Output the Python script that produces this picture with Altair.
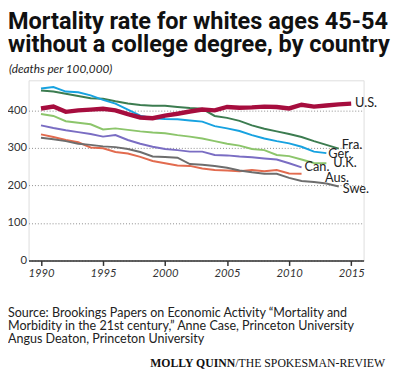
import altair as alt
import pandas as pd

years = list(range(1990, 2016))

us = [405, 410, 396, 400, 402, 404, 400, 390, 381, 379, 386, 391, 397, 402, 400, 409, 407, 408, 410, 409, 405, 415, 410, 413, 416, 418]
fra = [453, 450, 444, 438, 432, 431, 424, 418, 414, 412, 412, 409, 406, 404, 385, 380, 372, 360, 351, 344, 337, 329, 318, 308, 298]
ger = [458, 462, 450, 448, 440, 428, 418, 402, 386, 379, 377, 376, 373, 370, 358, 352, 345, 334, 325, 318, 312, 303, 290, 286]
uk = [390, 385, 371, 367, 363, 349, 352, 348, 344, 341, 339, 334, 330, 325, 318, 311, 306, 297, 294, 281, 278, 269, 260, 259]
can = [360, 353, 347, 342, 337, 330, 334, 321, 311, 303, 297, 294, 290, 290, 281, 280, 277, 275, 272, 269, 259, 248]
aus = [336, 329, 321, 315, 301, 299, 289, 285, 276, 265, 259, 253, 252, 245, 241, 240, 238, 241, 238, 241, 232, 231]
swe = [327, 323, 318, 311, 308, 304, 302, 297, 289, 277, 276, 274, 257, 255, 252, 247, 240, 235, 231, 231, 220, 212, 209, 205, 197]

countries = ["U.S.", "Fra.", "Ger.", "U.K.", "Can.", "Aus.", "Swe."]
series = [us, fra, ger, uk, can, aus, swe]
colors = ["#a60d3e", "#3c7c50", "#17a2e0", "#8cc56b", "#7a6dc3", "#e26b4f", "#6d6d6d"]
label_dx = [4, 3, 2, 7, 3, 24, 4]
label_dy = [0, -4, 1, 0, 0, 4, 3]

title_lines = ["Mortality rate for whites ages 45-54", "without a college degree, by country"]
subtitle = "(deaths per 100,000)"
source_lines = [
    "Source: Brookings Papers on Economic Activity \u201cMortality and",
    "Morbidity in the 21st century,\u201d Anne Case, Princeton University",
    "Angus Deaton, Princeton University",
]
byline_bold = "MOLLY QUINN"
byline_reg = "/THE SPOKESMAN-REVIEW"

y_ticks = list(range(0, 451, 50))
x_ticks = [1990, 1995, 2000, 2005, 2010, 2015]

rows = []
for c, vals in zip(countries, series):
    for yr, v in zip(years, vals):
        rows.append({"country": c, "year": yr, "value": v})
df = pd.DataFrame(rows)

FONT = "Lato"
xscale = alt.Scale(domain=[1989, 2016], nice=False, zero=False)
yscale = alt.Scale(domain=[0, 480], nice=False)

base_x = alt.X("year:Q", scale=xscale,
               axis=alt.Axis(values=x_ticks, format="d", title=None, grid=False,
                             domain=True, domainColor="#333333", domainWidth=1.5,
                             ticks=True, tickSize=5, tickColor="#333333", tickWidth=1.5,
                             labelFont=FONT, labelFontStyle="italic", labelFontSize=11.5,
                             labelColor="#333333", labelPadding=2))
base_y = alt.Y("value:Q", scale=yscale,
               axis=alt.Axis(values=y_ticks, title=None, domain=False, ticks=False,
                             grid=True, gridDash=[1, 2], gridColor="#8a8a8a", gridWidth=1,
                             labelFont=FONT, labelFontSize=11.5, labelColor="#333333",
                             labelPadding=2))

others = df[df.country != "U.S."]
lines = alt.Chart(others).mark_line(strokeWidth=2).encode(
    x=base_x, y=base_y,
    color=alt.Color("country:N", scale=alt.Scale(domain=countries, range=colors), legend=None),
    detail="country:N",
)
us_line = alt.Chart(df[df.country == "U.S."]).mark_line(strokeWidth=4.5, color=colors[0]).encode(
    x="year:Q", y="value:Q")

label_layers = []
for c, vals, dx, dy in zip(countries, series, label_dx, label_dy):
    end = pd.DataFrame([{"year": years[len(vals) - 1], "value": vals[-1], "label": c}])
    label_layers.append(
        alt.Chart(end).mark_text(align="left", baseline="middle", dx=dx, dy=dy,
                                 font=FONT, fontSize=13, color="#222222").encode(
            x="year:Q", y="value:Q", text="label:N"))

def text_layer(txt, x, y, size, weight="normal", style="normal", font=FONT, align="left", color="#111111"):
    return alt.Chart(pd.DataFrame({"t": [txt]})).mark_text(
        align=align, baseline="alphabetic", font=font, fontSize=size, fontWeight=weight,
        fontStyle=style, color=color).encode(x=alt.value(x), y=alt.value(y), text="t:N")

TFONT = "Liberation Sans Narrow, Roboto"
texts = [
    text_layer(title_lines[0], -21, -52, 24, weight="bold", font=TFONT),
    text_layer(title_lines[1], -21, -29, 24, weight="bold", font=TFONT),
    text_layer(subtitle, -20, -7, 12, style="italic", color="#222222"),
    text_layer(source_lines[0], -21, 241.5, 12.8, color="#222222"),
    text_layer(source_lines[1], -21, 255, 12.8, color="#222222"),
    text_layer(source_lines[2], -21, 268.5, 12.8, color="#222222"),
    text_layer(byline_bold, 211, 293, 12, weight="bold", font="Liberation Serif", align="right"),
    text_layer(byline_reg, 211, 293, 12, font="Liberation Serif", align="left"),
]

chart = alt.layer(lines, us_line, *label_layers, *texts).properties(
    width=342, height=184,
    autosize=alt.AutoSizeParams(type="none"),
    padding={"left": 21, "top": 70, "right": 29, "bottom": 111},
).configure_view(stroke=None).configure(background="white")

chart.save("out.html", embed_options={"renderer": "svg", "actions": False})
